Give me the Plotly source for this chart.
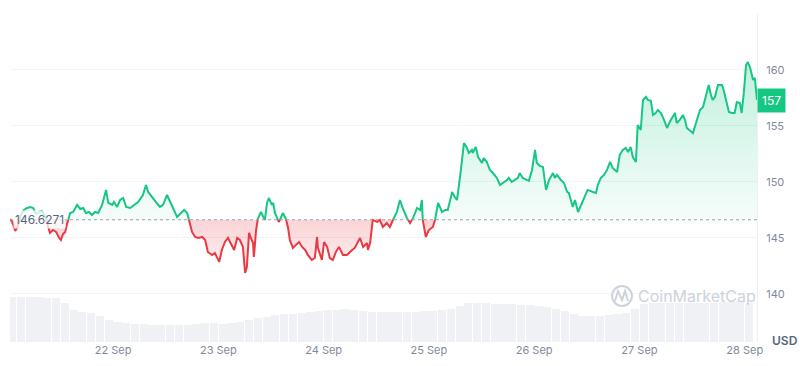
import pandas as pd
import plotly.graph_objects as go

START = pd.Timestamp("2024-09-21 00:00")
BASE = 146.6271

# hours since START, and price (USD)
hours = [
    0.5, 1.0, 1.7, 2.3, 3.0, 3.7, 4.4, 5.1, 5.8, 6.4,
    7.1, 7.8, 8.5, 9.2, 9.6, 10.3, 11.0, 11.7, 12.1, 12.6,
    13.1, 13.5, 14.0, 14.2, 14.9, 15.8, 16.5, 17.2, 17.8, 18.5,
    19.2, 19.9, 20.6, 21.5, 22.4, 22.9, 23.8, 24.2, 24.9, 25.6,
    26.3, 27.0, 27.9, 28.6, 29.7, 30.8, 31.5, 32.0, 32.9, 33.6,
    34.0, 34.7, 35.4, 36.3, 37.0, 37.7, 38.6, 39.5, 40.2, 40.9,
    41.3, 42.0, 42.7, 43.4, 44.3, 45.0, 45.6, 46.6, 47.2, 48.2,
    48.8, 49.5, 50.2, 51.1, 51.6, 52.3, 52.9, 53.6, 54.1, 54.5,
    55.0, 55.4, 55.9, 56.1, 56.6, 57.0, 57.7, 58.2, 58.6, 59.1,
    59.5, 60.2, 60.5, 60.9, 61.4, 61.8, 62.5, 62.7, 63.4, 63.9,
    64.3, 65.0, 65.7, 66.4, 67.1, 67.8, 68.4, 69.3, 70.0, 70.5,
    70.7, 71.6, 72.1, 72.8, 73.4, 74.1, 74.8, 75.5, 76.4, 77.3,
    78.5, 79.1, 80.3, 81.0, 81.9, 82.1, 82.6, 83.2, 84.2, 84.8,
    85.5, 86.4, 87.1, 87.8, 88.7, 89.4, 90.1, 91.0, 91.7, 92.4,
    93.3, 94.0, 94.4, 94.6, 95.3, 96.0, 96.9, 97.4, 98.1, 99.0,
    99.7, 100.3, 101.3, 101.9, 102.4, 103.1, 103.8, 104.0, 104.7, 105.1,
    105.8, 106.0, 106.7, 107.2, 108.1, 108.5, 109.2, 109.9, 110.6, 111.5,
    112.2, 112.9, 113.8, 114.2, 114.9, 115.6, 116.3, 116.7, 117.4, 118.3,
    118.8, 119.5, 120.2, 120.6, 121.3, 122.0, 122.7, 123.4, 124.3, 124.7,
    125.2, 126.1, 126.8, 127.5, 127.9, 128.8, 129.3, 130.0, 130.9, 131.6,
    132.2, 133.4, 134.1, 134.5, 135.2, 135.9, 136.6, 137.3, 137.9, 138.9,
    139.5, 140.2, 140.9, 141.4, 142.0, 142.5, 143.2, 143.6, 144.3, 144.8,
    145.5, 145.9, 146.6, 147.1, 147.7, 148.2, 148.9, 149.6, 150.3, 150.9,
    151.6, 152.1, 152.5, 153.2, 153.9, 154.4, 154.8, 155.5, 156.2, 157.1,
    157.8, 158.5, 159.4, 159.8, 160.3, 160.7, 161.2, 161.9, 162.8, 163.2,
    163.9, 164.4, 165.1, 165.7, 166.2, 166.9, 167.3, 167.8, 168.3, 168.7,
    169.2, 169.9, 170.3, 170.8,
]
price = [
    146.70, 146.43, 145.63, 146.07, 147.05, 147.50, 147.68, 147.77, 147.68, 147.14,
    147.32, 147.41, 146.96, 145.89, 145.45, 145.71, 145.54, 145.00, 144.82, 145.36,
    145.54, 146.25, 146.88, 147.23, 147.32, 147.95, 147.59, 147.68, 147.23, 147.32,
    147.05, 147.32, 147.23, 147.95, 149.29, 148.13, 147.95, 148.21, 147.77, 148.39,
    148.57, 147.77, 147.68, 147.86, 148.21, 148.84, 149.73, 149.11, 148.66, 148.21,
    148.10, 147.77, 147.95, 148.84, 148.21, 147.68, 146.88, 147.23, 147.50, 147.23,
    146.61, 145.54, 145.09, 145.00, 145.09, 144.82, 143.75, 143.48, 143.66, 142.86,
    143.93, 144.64, 145.00, 144.38, 143.93, 145.00, 144.82, 144.20, 141.88, 142.41,
    145.45, 145.00, 144.55, 143.30, 145.71, 146.70, 147.32, 146.88, 146.61, 148.13,
    148.57, 147.95, 148.13, 147.23, 146.79, 146.43, 146.96, 147.23, 146.70, 145.89,
    144.82, 144.11, 144.38, 144.64, 144.20, 143.93, 143.48, 143.04, 143.21, 145.09,
    144.11, 143.04, 144.64, 144.20, 143.21, 143.04, 143.75, 144.20, 143.48, 143.48,
    143.93, 144.11, 145.00, 144.20, 144.55, 143.93, 144.55, 146.61, 146.43, 146.61,
    145.98, 146.34, 145.98, 146.61, 147.32, 148.39, 147.59, 146.79, 146.34, 146.79,
    147.68, 147.50, 148.39, 146.61, 145.09, 145.71, 145.98, 146.61, 148.13, 147.32,
    147.50, 147.50, 149.11, 148.66, 148.39, 150.45, 152.59, 153.48, 153.04, 152.59,
    152.86, 152.59, 153.13, 152.23, 151.70, 152.14, 151.79, 151.07, 150.80, 150.36,
    149.73, 149.91, 150.18, 150.36, 150.00, 150.18, 150.36, 150.80, 150.36, 150.18,
    150.10, 151.07, 152.86, 151.70, 151.43, 151.34, 149.29, 150.18, 150.80, 150.36,
    150.63, 150.18, 149.91, 149.11, 149.02, 147.77, 148.39, 147.32, 148.13, 148.84,
    149.29, 149.11, 149.02, 149.73, 150.36, 150.63, 151.07, 151.79, 151.25, 150.89,
    152.41, 152.86, 153.04, 152.68, 153.13, 152.23, 151.79, 155.09, 154.64, 157.32,
    157.59, 157.32, 157.25, 155.98, 156.16, 156.43, 156.16, 155.54, 154.82, 155.36,
    155.80, 156.16, 155.27, 155.54, 155.98, 155.54, 154.82, 154.64, 154.38, 155.54,
    156.43, 156.70, 157.95, 158.66, 157.77, 157.32, 157.59, 158.66, 158.66, 158.21,
    157.05, 156.25, 156.16, 156.16, 157.14, 157.05, 156.16, 157.95, 160.45, 160.71,
    160.27, 159.11, 159.29, 157.32,
]

# volume bars (2-hour buckets), relative units
vol_hours = [
    1, 3, 5, 7, 9, 11, 13, 15, 17, 19,
    21, 23, 25, 27, 29, 31, 33, 35, 37, 39,
    41, 43, 45, 47, 49, 51, 53, 55, 57, 59,
    61, 63, 65, 67, 69, 71, 73, 75, 77, 79,
    81, 83, 85, 87, 89, 91, 93, 95, 97, 99,
    101, 103, 105, 107, 109, 111, 113, 115, 117, 119,
    121, 123, 125, 127, 129, 131, 133, 135, 137, 139,
    141, 143, 145, 147, 149, 151, 153, 155, 157, 159,
    161, 163, 165, 167, 169,
]
volume = [
    4.5, 4.5, 4.5, 4.5, 4.4, 4.4, 3.9, 3.2, 3.05, 2.9,
    2.6, 2.2, 2.0, 1.9, 1.85, 1.8, 1.75, 1.7, 1.7, 1.7,
    1.75, 1.8, 1.9, 1.9, 1.85, 1.9, 2.0, 2.2, 2.4, 2.55,
    2.7, 2.8, 2.85, 2.9, 3.0, 3.1, 3.2, 3.25, 3.3, 3.2,
    3.1, 3.05, 3.05, 3.0, 3.0, 3.0, 3.05, 3.1, 3.15, 3.2,
    3.3, 3.6, 3.9, 3.9, 3.9, 3.85, 3.8, 3.8, 3.75, 3.7,
    3.6, 3.5, 3.35, 3.1, 2.8, 2.65, 2.6, 2.65, 2.7, 2.8,
    2.95, 3.3, 3.8, 3.9, 3.9, 3.9, 3.9, 3.9, 3.9, 3.9,
    3.95, 4.0, 4.05, 4.1, 3.9,
]

y_ticks = [140, 145, 150, 155, 160, 165]
y_ticktext = ["140", "145", "150", "155", "160", ""]

GREEN = "#16c784"
RED = "#ea3943"
TXT = "#808a9d"
FONT = "Inter, Roboto, sans-serif"

# ---- build split series (insert baseline crossings) ----
times = START + pd.to_timedelta(hours, unit="h")
tns = [t.value for t in times]
aug_t, aug_v = [], []
for i, v in enumerate(price):
    if i > 0:
        v0 = price[i - 1]
        if (v0 - BASE) * (v - BASE) < 0:
            f = (BASE - v0) / (v - v0)
            aug_t.append(tns[i - 1] + f * (tns[i] - tns[i - 1]))
            aug_v.append(BASE)
    aug_t.append(tns[i])
    aug_v.append(v)
aug_dt = pd.to_datetime([int(t) for t in aug_t])

up_clip = [max(v, BASE) for v in aug_v]
dn_clip = [min(v, BASE) for v in aug_v]
up_line = [v if v >= BASE else None for v in aug_v]
dn_line = [v if v <= BASE else None for v in aug_v]
base_line = [BASE] * len(aug_v)

fig = go.Figure()

vol_times = START + pd.to_timedelta(vol_hours, unit="h")
fig.add_trace(go.Bar(
    x=vol_times, y=volume, yaxis="y2",
    marker=dict(color="#eff1f5", line=dict(width=0)),
    width=2 * 3600 * 1000 * 0.93, hoverinfo="skip", showlegend=False,
))

fig.add_trace(go.Scatter(x=aug_dt, y=base_line, mode="lines", line=dict(width=0),
                         hoverinfo="skip", showlegend=False))
fig.add_trace(go.Scatter(
    x=aug_dt, y=up_clip, mode="lines", line=dict(width=0), fill="tonexty",
    fillgradient=dict(type="vertical", start=BASE, stop=161,
                      colorscale=[[0, "rgba(22,199,132,0.04)"], [1, "rgba(22,199,132,0.27)"]]),
    hoverinfo="skip", showlegend=False))
fig.add_trace(go.Scatter(x=aug_dt, y=base_line, mode="lines", line=dict(width=0),
                         hoverinfo="skip", showlegend=False))
fig.add_trace(go.Scatter(
    x=aug_dt, y=dn_clip, mode="lines", line=dict(width=0), fill="tonexty",
    fillgradient=dict(type="vertical", start=141.5, stop=BASE,
                      colorscale=[[0, "rgba(234,57,67,0.05)"], [1, "rgba(234,57,67,0.22)"]]),
    hoverinfo="skip", showlegend=False))

fig.add_trace(go.Scatter(x=aug_dt, y=up_line, mode="lines",
                         line=dict(color=GREEN, width=2), connectgaps=False,
                         hoverinfo="skip", showlegend=False))
fig.add_trace(go.Scatter(x=aug_dt, y=dn_line, mode="lines",
                         line=dict(color=RED, width=2), connectgaps=False,
                         hoverinfo="skip", showlegend=False))

# baseline dotted
fig.add_shape(type="line", xref="paper", x0=0, x1=1, yref="y", y0=BASE, y1=BASE,
              line=dict(color="#9aa1ad", width=1, dash="dot"))

# plot area in pixels: left 10, right 757, top 14, bottom 342
PL, PR, PT, PB = 10, 757, 14, 342
def px_x(x):
    return (x - PL) / (PR - PL)
def px_y(y):
    return (PB - y) / (PB - PT)

annotations = [
    dict(x=0, xref="paper", y=BASE, yref="y", xanchor="left", yanchor="middle",
         xshift=3, text=f"{BASE}", showarrow=False,
         font=dict(family=FONT, size=12, color="#58667e"),
         bgcolor="rgba(255,255,255,0.75)", borderpad=1),
    dict(x=1, xref="paper", y=price[-1], yref="y", xanchor="left", yanchor="middle",
         text=f"{price[-1]:.0f}", showarrow=False,
         font=dict(family=FONT, size=12, color="white"),
         bgcolor=GREEN, borderpad=4),
    dict(x=1, xref="paper", y=0, yref="paper", xanchor="left", yanchor="middle",
         xshift=13, yshift=2, text="USD", showarrow=False,
         font=dict(family=FONT, size=12, color="#58667e", weight=600)),
    dict(x=px_x(636), xref="paper", y=px_y(296), yref="paper", xanchor="left",
         yanchor="middle", text="CoinMarketCap", showarrow=False,
         font=dict(family=FONT, size=16, color="#cdd3dd")),
]

# watermark logo
cx, cy, r = 622, 296, 10
fig.add_shape(type="circle", xref="paper", yref="paper",
              x0=px_x(cx - r), x1=px_x(cx + r), y0=px_y(cy + r), y1=px_y(cy - r),
              line=dict(color="#cdd3dd", width=2))
pts = [(615, 301), (618, 291), (622, 300), (625, 291), (628, 301)]
path = "M " + " L ".join(f"{px_x(a):.5f},{px_y(b):.5f}" for a, b in pts)
fig.add_shape(type="path", xref="paper", yref="paper", path=path,
              line=dict(color="#cdd3dd", width=2))

fig.update_layout(
    width=800, height=366, autosize=False,
    margin=dict(l=PL, r=800 - PR, t=PT, b=366 - PB),
    paper_bgcolor="white", plot_bgcolor="white",
    font=dict(family=FONT, size=11, color=TXT),
    showlegend=False, bargap=0,
    annotations=annotations,
    xaxis=dict(type="date", range=[times[0], times[-1]],
               tickformat="%-d %b", dtick=86400000, tick0="2024-09-22",
               showgrid=False, zeroline=False, showline=False, ticks="",
               tickfont=dict(family=FONT, size=11, color=TXT)),
    yaxis=dict(side="right", range=[135.71, 165.0], tickvals=y_ticks, ticktext=y_ticktext,
               showgrid=True, gridcolor="#f1f3f6", gridwidth=1, zeroline=False,
               showline=True, linecolor="#eef0f3", linewidth=1, ticks="",
               ticklabelstandoff=6,
               tickfont=dict(family=FONT, size=11, color=TXT)),
    yaxis2=dict(overlaying="y", range=[0, 32.8], visible=False),
)

fig.write_html("out.html", config={"displayModeBar": False},
               post_script="document.body.style.margin='0';")
